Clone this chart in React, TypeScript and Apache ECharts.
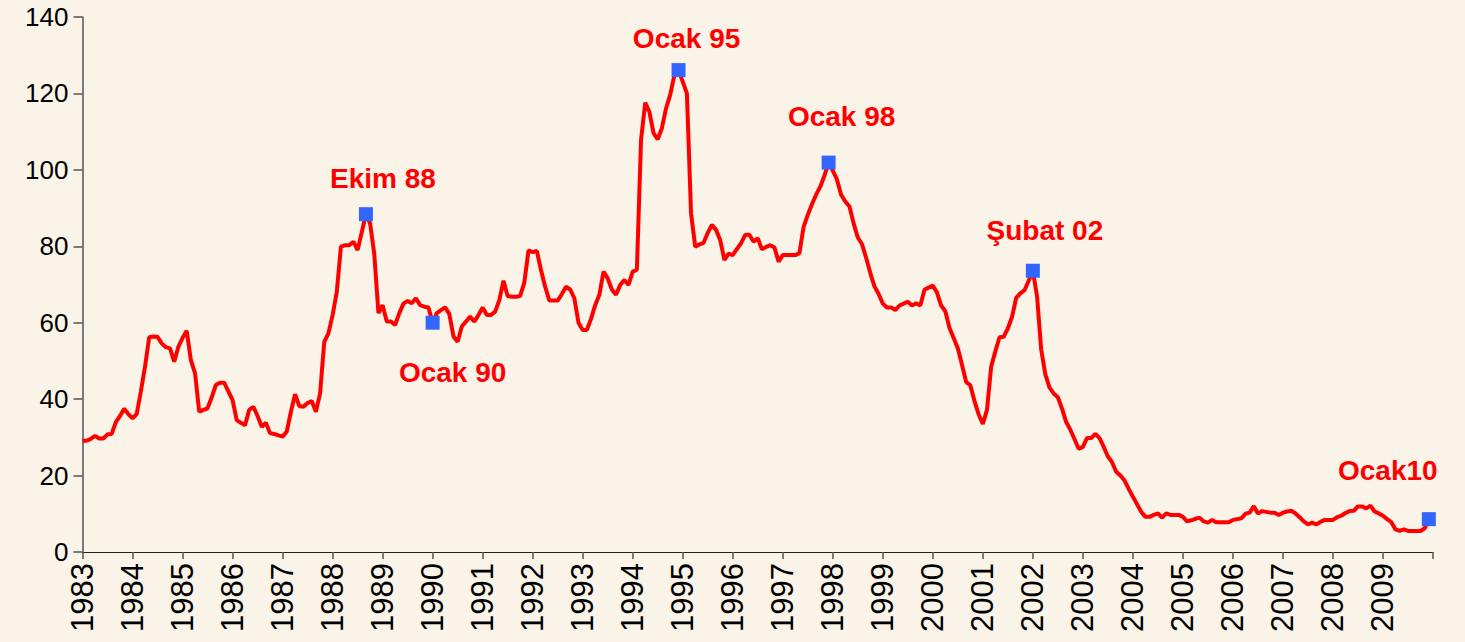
import React, { useEffect, useRef } from "react";
import * as echarts from "echarts";

// Monthly observations, Şubat 1983 – Ocak 2010
const START_YEAR = 1983;
const START_MONTH = 2; // Şubat
const values: number[] = [
  29.1, 29.1, 29.6, 30.4, 29.7, 29.7, 30.8, 30.9, 34.0, 35.6, 37.5, 36.1,
  35.0, 36.1, 42.0, 48.5, 56.2, 56.4, 56.3, 54.6, 53.6, 53.3, 49.8, 53.7,
  56.0, 57.9, 50.2, 46.8, 36.7, 37.2, 37.6, 40.5, 43.7, 44.3, 44.3, 42.0,
  39.8, 34.5, 33.8, 33.2, 37.2, 38.0, 35.6, 32.8, 33.8, 31.1, 30.9, 30.5,
  30.2, 31.5, 36.7, 41.3, 38.2, 38.0, 39.0, 39.5, 36.7, 41.5, 55.0, 57.2,
  62.0, 68.0, 79.9, 80.3, 80.3, 81.2, 79.0, 83.7, 88.4, 86.0, 78.0, 62.5,
  64.6, 60.3, 60.3, 59.4, 62.5, 65.0, 65.7, 65.1, 66.4, 64.6, 64.2, 64.0,
  60.0, 62.5, 63.3, 64.0, 62.3, 56.4, 55.0, 59.0, 60.3, 61.6, 60.3, 62.0,
  64.0, 62.0, 62.0, 62.9, 65.9, 71.0, 67.0, 66.8, 66.8, 67.0, 70.5, 78.9,
  78.5, 78.8, 73.8, 69.4, 65.8, 65.8, 65.8, 67.5, 69.4, 68.7, 66.4, 60.0,
  58.1, 58.1, 61.0, 64.6, 67.3, 73.4, 71.6, 68.7, 67.3, 69.9, 71.2, 69.9,
  73.4, 73.8, 107.8, 117.6, 115.2, 109.6, 108.0, 110.9, 116.1, 119.6, 124.8, 126.1,
  123.1, 120.0, 88.6, 79.9, 80.5, 80.9, 83.5, 85.6, 84.3, 81.6, 76.4, 78.1,
  77.7, 79.3, 80.8, 83.0, 83.0, 81.2, 82.1, 79.2, 79.8, 80.3, 79.7, 76.0,
  77.7, 77.7, 77.7, 77.7, 78.2, 85.1, 88.2, 91.0, 93.5, 95.6, 98.5, 101.9,
  99.8, 97.5, 93.5, 91.7, 90.4, 86.0, 82.3, 80.6, 77.0, 73.0, 69.5, 67.5,
  65.0, 64.0, 64.0, 63.3, 64.5, 65.0, 65.5, 64.5, 65.1, 64.5, 68.6, 69.2,
  69.7, 67.9, 64.5, 63.0, 58.6, 56.0, 53.3, 49.0, 44.5, 43.6, 39.5, 36.0,
  33.5, 37.2, 48.5, 52.5, 56.2, 56.3, 58.5, 61.5, 66.5, 67.7, 68.5, 71.0,
  73.6, 67.0, 53.0, 46.5, 43.0, 41.5, 40.5, 37.5, 34.0, 32.0, 29.5, 27.0,
  27.5, 29.8, 29.8, 30.9, 29.8, 27.5, 25.0, 23.5, 21.0, 20.0, 18.7, 16.5,
  14.5, 12.5, 10.5, 9.2, 9.2, 9.7, 10.1, 9.0, 10.1, 9.7, 9.7, 9.7,
  9.2, 8.0, 8.3, 8.7, 9.0, 8.0, 7.7, 8.4, 7.8, 7.8, 7.8, 7.8,
  8.4, 8.6, 8.8, 10.0, 10.3, 12.0, 10.1, 10.7, 10.5, 10.3, 10.3, 9.7,
  10.3, 10.6, 10.8, 10.1, 9.1, 8.0, 7.2, 7.7, 7.2, 7.9, 8.4, 8.4,
  8.4, 9.1, 9.5, 10.2, 10.7, 10.8, 11.9, 11.9, 11.4, 12.1, 10.6, 10.1,
  9.5, 8.6, 7.8, 5.9, 5.5, 5.9, 5.5, 5.5, 5.5, 5.5, 6.2, 8.6,
];

// Highlighted months (index into values) and their labels
const highlightIndex: number[] = [68, 84, 143, 179, 228, 323];
const highlightLabel: string[] = ["Ekim 88", "Ocak 90", "Ocak 95", "Ocak 98", "Şubat 02", "Ocak10"];
const highlightLabelOffset: number[][] = [
  [17, -36],
  [20, 50],
  [8, -32],
  [13, -46],
  [12, -40],
  [-41, -49],
];

const yTicks = { min: 0, max: 140, interval: 20 };

// one extra empty slot closes the axis, as in the original
const categories: string[] = Array.from({ length: values.length + 1 }, (_, i) => {
  const m = START_MONTH - 1 + i;
  const y = START_YEAR + Math.floor(m / 12);
  const mm = (m % 12) + 1;
  return `${y}-${String(mm).padStart(2, "0")}`;
});

const FONT = "'Liberation Sans', Arial, sans-serif";

export default function App() {
  const ref = useRef<HTMLDivElement>(null);
  useEffect(() => {
    if (!ref.current) return;
    const chart = echarts.init(ref.current, undefined, { renderer: "svg" });
    const lastIdx = categories.length - 1;
    chart.setOption({
      animation: false,
      backgroundColor: "#F9F3E8",
      grid: { left: 82.5, right: 32, top: 17, bottom: 90, containLabel: false },
      xAxis: {
        type: "category",
        data: categories,
        boundaryGap: false,
        axisLine: { show: true, lineStyle: { color: "#222", width: 1 } },
        axisTick: {
          show: true,
          inside: false,
          length: 7,
          interval: (i: number) => i % 12 === 0,
          lineStyle: { color: "#555", width: 1.5 },
        },
        axisLabel: {
          interval: (i: number) => i % 12 === 0 && i !== lastIdx,
          formatter: (v: string) => v.slice(0, 4),
          rotate: 90,
          margin: 11,
          color: "#000",
          fontSize: 31,
          fontFamily: FONT,
        },
        splitLine: { show: false },
      },
      yAxis: {
        type: "value",
        min: yTicks.min,
        max: yTicks.max,
        interval: yTicks.interval,
        axisLine: { show: true, lineStyle: { color: "#555", width: 1.5 } },
        axisTick: { show: true, inside: false, length: 9, lineStyle: { color: "#555", width: 1.5 } },
        axisLabel: { color: "#000", fontSize: 26, fontFamily: FONT, margin: 14 },
        splitLine: { show: false },
      },
      series: [
        {
          type: "line",
          data: values,
          symbol: "none",
          lineStyle: { color: "#FF0000", width: 4 },
          z: 2,
        },
        {
          type: "scatter",
          symbol: "rect",
          symbolSize: 14,
          itemStyle: { color: "#3366FF", opacity: 1 },
          z: 3,
          data: highlightIndex.map((idx, k) => ({
            value: [idx, values[idx]],
            label: {
              show: true,
              position: "inside",
              offset: highlightLabelOffset[k],
              formatter: highlightLabel[k],
              color: "#FF0000",
              fontWeight: "bold",
              fontSize: 28,
              fontFamily: FONT,
            },
          })),
        },
      ],
    });
    return () => chart.dispose();
  }, []);
  return (
    <div
      ref={ref}
      style={{ position: "fixed", left: 0, top: 0, width: 1465, height: 642 }}
    />
  );
}
